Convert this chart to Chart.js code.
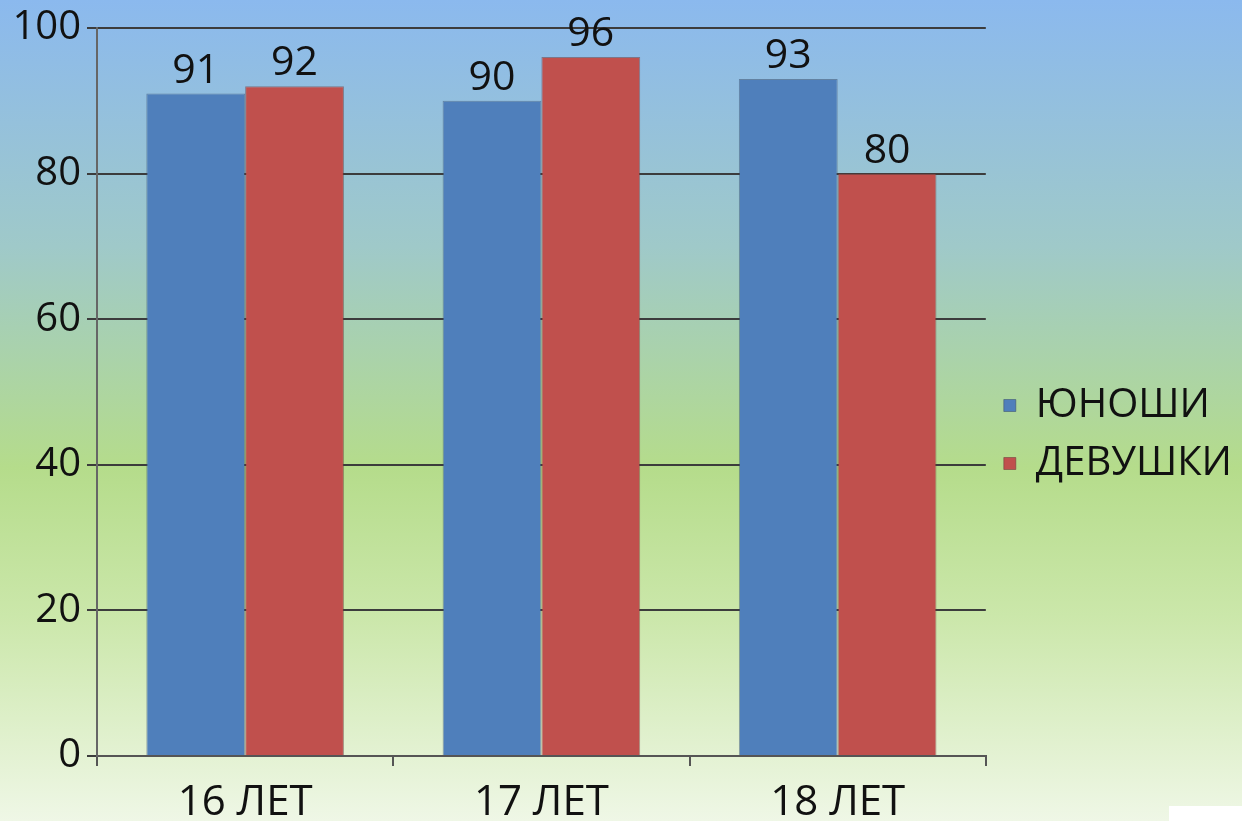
<!DOCTYPE html>
<html>
<head>
<meta charset="utf-8">
<script src="https://cdn.jsdelivr.net/npm/chart.js@4/dist/chart.umd.min.js"></script>
<style>
  html, body { margin: 0; padding: 0; background: #ffffff; }
  #wrap { width: 1242px; height: 821px; position: relative; }
</style>
</head>
<body>
<div id="wrap"><canvas id="chart" width="1242" height="821"></canvas></div>
<script>
const categories = ['16 ЛЕТ', '17 ЛЕТ', '18 ЛЕТ'];
const seriesNames = ['ЮНОШИ', 'ДЕВУШКИ'];
const boys = [91, 90, 93];
const girls = [92, 96, 80];
const yTicks = [0, 20, 40, 60, 80, 100];

const FONT = '"Open Sans", "DejaVu Sans", sans-serif';

// Soft blue-to-green backdrop behind the whole chart
const backdrop = {
  id: 'backdrop',
  beforeDraw(chart) {
    const { ctx, width, height } = chart;
    const g = ctx.createLinearGradient(0, 0, 0, height);
    g.addColorStop(0.00, '#8bb9ee');
    g.addColorStop(0.30, '#9fc9c9');
    g.addColorStop(0.57, '#b5dc8b');
    g.addColorStop(0.75, '#cbe7aa');
    g.addColorStop(1.00, '#eff7e6');
    ctx.save();
    ctx.fillStyle = g;
    ctx.fillRect(0, 0, width, height);
    ctx.restore();
  },
  afterDraw(chart) {
    const { ctx } = chart;
    ctx.save();
    ctx.fillStyle = '#ffffff';
    ctx.fillRect(1169, 806, 73, 15);
    ctx.restore();
  }
};

// Value written above every bar
const valueLabels = {
  id: 'valueLabels',
  afterDatasetsDraw(chart) {
    const { ctx } = chart;
    ctx.save();
    ctx.font = '41px ' + FONT;
    ctx.fillStyle = '#111111';
    ctx.textAlign = 'center';
    ctx.textBaseline = 'alphabetic';
    chart.data.datasets.forEach((ds, i) => {
      chart.getDatasetMeta(i).data.forEach((bar, j) => {
        ctx.fillText(String(ds.data[j]), bar.x, bar.y - 11);
      });
    });
    ctx.restore();
  }
};

// Move the legend block slightly below the vertical middle
const legendShift = {
  id: 'legendShift',
  afterLayout(chart) {
    const lg = chart.legend;
    if (lg) { lg.top += 10; lg.bottom += 10; }
  }
};

new Chart(document.getElementById('chart'), {
  type: 'bar',
  data: {
    labels: categories,
    datasets: [
      { label: seriesNames[0], data: boys, backgroundColor: '#4f7fbb', borderColor: 'rgba(60,80,110,0.55)', borderWidth: 1 },
      { label: seriesNames[1], data: girls, backgroundColor: '#c0504d', borderColor: 'rgba(110,60,60,0.55)', borderWidth: 1 }
    ]
  },
  options: {
    responsive: false,
    animation: false,
    layout: { padding: { top: 28, left: 0, right: 0, bottom: 0 } },
    datasets: { bar: { categoryPercentage: 0.667, barPercentage: 1.0 } },
    plugins: {
      tooltip: { enabled: false },
      legend: {
        position: 'right',
        align: 'center',
        labels: {
          font: { family: FONT, size: 40 },
          color: '#111111',
          boxWidth: 12,
          boxHeight: 12,
          padding: 18
        }
      }
    },
    scales: {
      x: {
        offset: true,
        grid: { offset: true, drawOnChartArea: false, tickLength: 10, color: '#555555', lineWidth: 2 },
        border: { display: true, color: '#555555', width: 2 },
        ticks: { font: { family: FONT, size: 42 }, color: '#111111', padding: 12 },
        afterFit(scale) { scale.height = 65; }
      },
      y: {
        min: 0,
        max: 100,
        afterBuildTicks(scale) { scale.ticks = yTicks.map(v => ({ value: v })); },
        grid: { color: '#3c3c3c', lineWidth: 2, tickLength: 10 },
        border: { display: true, color: '#666666', width: 2 },
        ticks: { font: { family: FONT, size: 40, lineHeight: 1.0 }, color: '#111111', padding: 6 },
        afterFit(scale) { scale.width = 97; }
      }
    }
  },
  plugins: [backdrop, valueLabels, legendShift]
});
</script>
</body>
</html>
